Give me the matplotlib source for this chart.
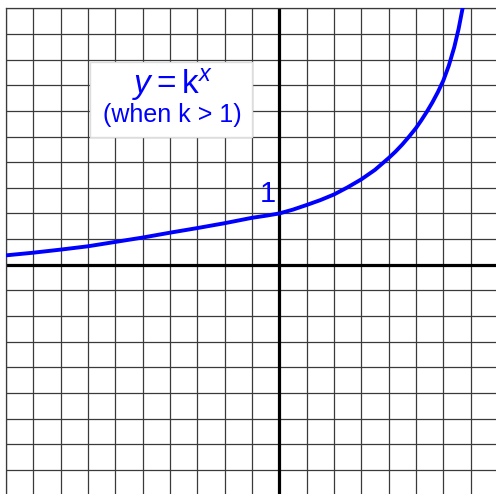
import numpy as np
import matplotlib
matplotlib.use("Agg")
import matplotlib.pyplot as plt
from matplotlib.patches import Rectangle

plt.rcParams['font.family'] = ['Liberation Sans', 'DejaVu Sans']
plt.rcParams['mathtext.fontset'] = 'custom'
plt.rcParams['mathtext.rm'] = 'Liberation Sans'
plt.rcParams['mathtext.it'] = 'Liberation Sans:italic'

# curve y = k^x, sampled points (grid squares are 0.5 wide)
curva_x = [-5.0, -4.5, -4.0, -3.5, -3.0, -2.5, -2.0, -1.5, -1.0, -0.5,
           -0.25, 0.0, 0.25, 0.5, 0.75, 1.0, 1.25, 1.5, 1.75, 2.0,
           2.125, 2.25, 2.375, 2.5, 2.6, 2.7, 2.8, 2.9, 3.0, 3.1,
           3.2, 3.28, 3.36, 3.42]
curva_y = [0.183, 0.235, 0.295, 0.36, 0.445, 0.53, 0.625, 0.715, 0.81, 0.915,
           0.955, 1.0, 1.075, 1.165, 1.26, 1.37, 1.51, 1.665, 1.85, 2.08,
           2.205, 2.345, 2.50, 2.665, 2.82, 2.985, 3.165, 3.365, 3.59, 3.88,
           4.24, 4.60, 5.04, 5.42]

rotulo_eixo = '1'
titulo = r'$y=\mathrm{k}^{x}$'
subtitulo = '(when k > 1)'

fig = plt.figure(figsize=(4.96, 4.94), dpi=100)
ax = fig.add_axes([6 / 496, 0, 490 / 496, 1 - 8.3 / 494])
ax.set_xlim(-5, 3.964)
ax.set_ylim(-4.47, 5)

# graph paper
ax.set_xticks(np.arange(-5, 4, 0.5))
ax.set_yticks(np.arange(-4, 5.01, 0.5))
ax.grid(True, color='#3a3a3a', linewidth=0.9)
ax.tick_params(length=0, labelbottom=False, labelleft=False)
for lado in ['left', 'top']:
    ax.spines[lado].set_color('#3a3a3a')
    ax.spines[lado].set_linewidth(0.9)
for lado in ['right', 'bottom']:
    ax.spines[lado].set_visible(False)

ax.axhline(0, color='black', linewidth=2.3, zorder=2)
ax.axvline(0, color='black', linewidth=2.3, zorder=2)

ax.plot(curva_x, curva_y, color='#0000ff', linewidth=2.8,
        solid_capstyle='round', solid_joinstyle='round', zorder=4)

# label box
caixa = Rectangle((-3.46, 2.49), 2.96, 1.47, facecolor='white',
                  edgecolor='#dddddd', linewidth=1, zorder=3)
ax.add_patch(caixa)
ax.text(-1.96, 3.52, titulo, color='#0000ff', fontsize=24,
        ha='center', va='center', zorder=5)
ax.text(-1.96, 2.92, subtitulo, color='#0000ff', fontsize=18,
        ha='center', va='center', zorder=5)

ax.text(-0.21, 1.38, rotulo_eixo, color='#0000ff', fontsize=21,
        ha='center', va='center', zorder=5)

fig.savefig('out.png', dpi=100, facecolor='white')
plt.close(fig)
